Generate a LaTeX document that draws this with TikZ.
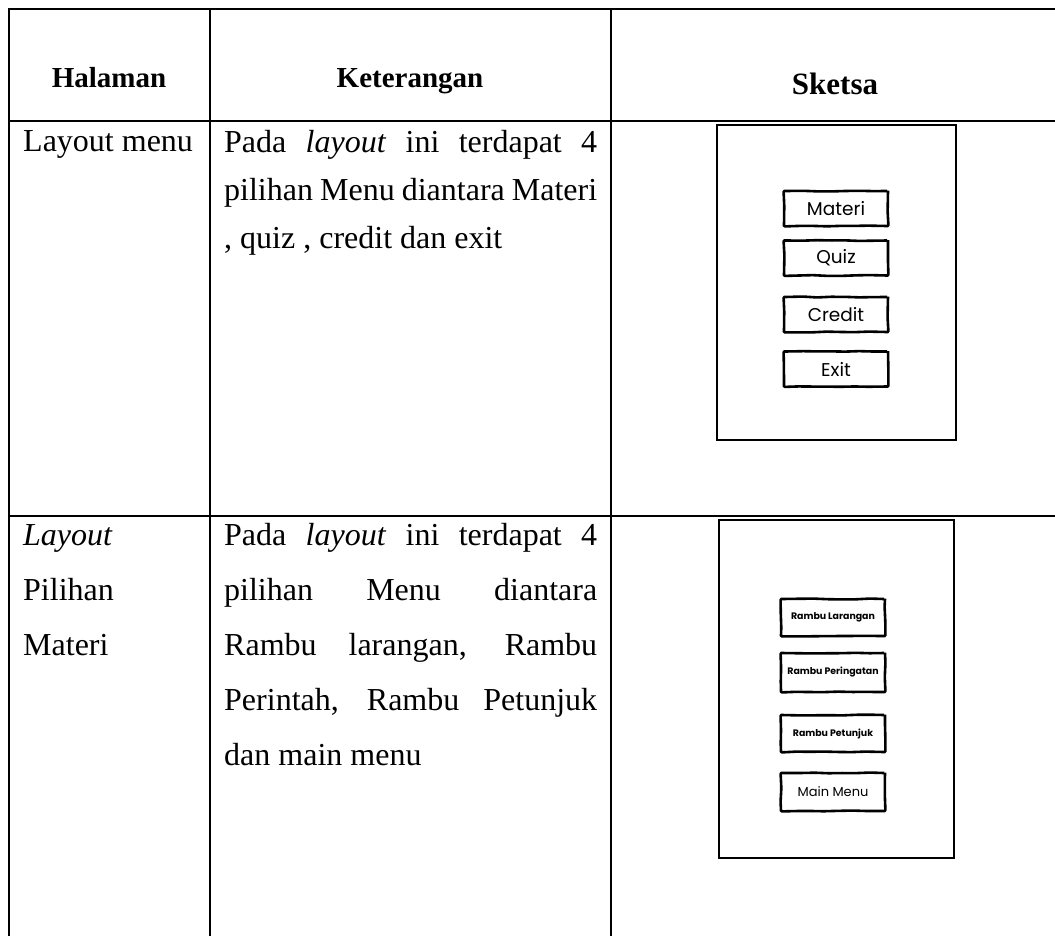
\documentclass[tikz,border=0pt]{standalone}
\usepackage{fontspec}
\setmainfont{Liberation Serif}
\newfontfamily\sketchfont{Poppins}
\usetikzlibrary{decorations.pathmorphing}
\begin{document}
\pgfmathsetseed{7}
\begin{tikzpicture}[x=1pt,y=-1pt,
  grid/.style={line width=2pt, black, line cap=rect},
  body/.style={anchor=base west, inner sep=0pt, font=\fontsize{32}{38}\selectfont},
  head/.style={anchor=base, inner sep=0pt, font=\bfseries\fontsize{29}{34}\selectfont},
  screen/.style={draw, line width=1.8pt, inner sep=0pt},
  btn/.style={draw, line width=2.6pt, line join=round, inner sep=0pt,
    minimum width=104pt, minimum height=35pt,
    decoration={random steps, segment length=14pt, amplitude=0.45pt},
    decorate, rounded corners=0.8pt,
    font=\sketchfont\fontsize{18.5}{22}\selectfont},
  btnsmall/.style={btn, font=\sketchfont\bfseries\fontsize{9.4}{11}\selectfont},
  btnmid/.style={btn, font=\sketchfont\fontsize{13}{16}\selectfont},
]
\clip (0,0) rectangle (1055,935);
\fill[white] (0,0) rectangle (1055,935);

% table rules
\draw[grid] (9,9) -- (1062,9);
\draw[grid] (9,121) -- (1062,121);
\draw[grid] (9,516) -- (1062,516);
\draw[grid] (9,9) -- (9,940);
\draw[grid] (210,9) -- (210,940);
\draw[grid] (611,9) -- (611,940);

% header
\node[head] (hHal) at (109,87) {Halaman};
\node[head] (hKet) at (410,87) {Keterangan};
\node[head, font=\bfseries\fontsize{31}{36}\selectfont] (hSke) at (835,94) {Sketsa};

% row 1: menu layout
\node[body] (r1a) at (23,151) {Layout menu};
\node[body] (r1b1) at (224,152) {\makebox[373pt][s]{Pada \textit{layout} ini terdapat 4}};
\node[body] (r1b2) at (224,200) {\makebox[373pt][s]{pilihan Menu diantara Materi}};
\node[body] (r1b3) at (224,248) {, quiz , credit dan exit};

\node[screen, minimum width=239pt, minimum height=315pt] (scrA) at (836.5,282.5) {};
\node[btn] (bMateri) at (836,208.5) {Materi};
\node[btn] (bQuiz)   at (836,258)   {Quiz};
\node[btn] (bCredit) at (836,314.5) {Credit};
\node[btn] (bExit)   at (836,369)   {Exit};

% row 2: material selection layout
\node[body] (r2a1) at (23,545) {\textit{Layout}};
\node[body] (r2a2) at (23,600) {Pilihan};
\node[body] (r2a3) at (23,655) {Materi};
\node[body] (r2b1) at (224,545) {\makebox[373pt][s]{Pada \textit{layout} ini terdapat 4}};
\node[body] (r2b2) at (224,600) {\makebox[373pt][s]{pilihan Menu diantara}};
\node[body] (r2b3) at (224,655) {\makebox[373pt][s]{Rambu larangan, Rambu}};
\node[body] (r2b4) at (224,710) {\makebox[373pt][s]{Perintah, Rambu Petunjuk}};
\node[body] (r2b5) at (224,765) {dan main menu};

\node[screen, minimum width=235pt, minimum height=338pt] (scrB) at (836.5,689) {};
\node[btnsmall, minimum height=37pt] (bLar) at (833,617.5) {Rambu Larangan};
\node[btnsmall, minimum height=39pt] (bPer) at (833,672.5) {Rambu Peringatan};
\node[btnsmall, minimum height=37pt] (bPet) at (833,733.5) {Rambu Petunjuk};
\node[btnmid, minimum height=38pt] (bMain) at (833,792) {Main Menu};
\end{tikzpicture}
\end{document}
